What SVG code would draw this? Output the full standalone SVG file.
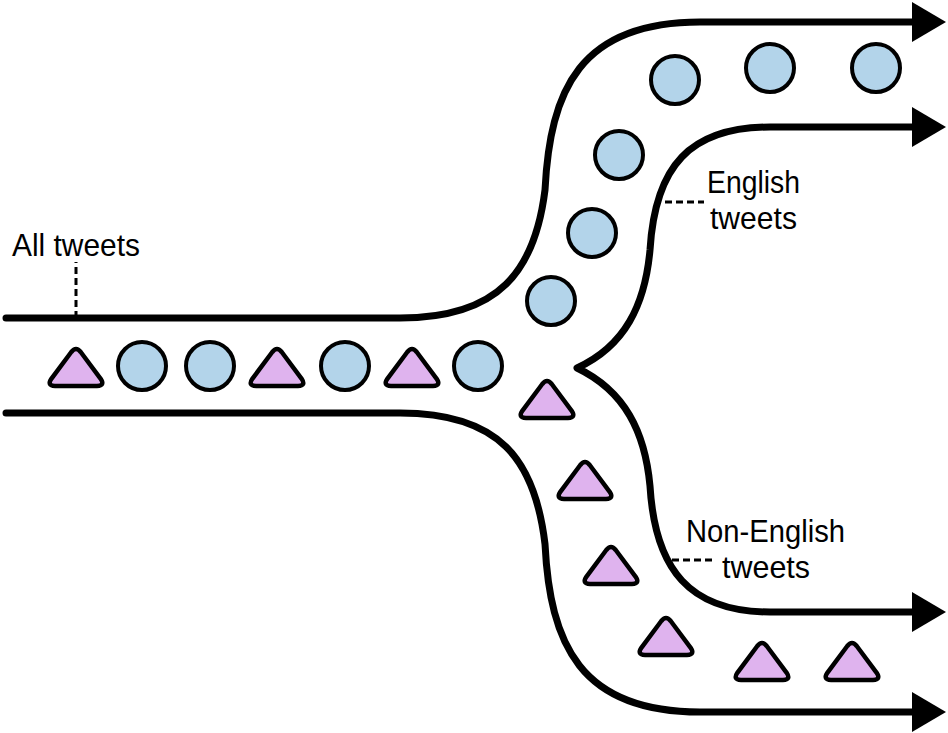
<svg xmlns="http://www.w3.org/2000/svg" width="948" height="733" viewBox="0 0 948 733">
<style>
.pipe{fill:none;stroke:#000;stroke-width:7;stroke-linecap:round;stroke-linejoin:round}
.lead{fill:none;stroke:#000;stroke-width:3;stroke-dasharray:7 4}
.c{fill:#b3d4ea;stroke:#000;stroke-width:4}
.t{fill:#dfb3ee;stroke:#000;stroke-width:4.5;stroke-linejoin:round}
.lbl{font-family:"Liberation Sans",Arial,sans-serif;font-size:32px;fill:#000}
</style>
<defs>
<polygon id="ah" points="0,-20 34,0 0,20" fill="#000"/>
</defs>
<g id="connectors">
<path class="pipe" d="M6,318 H400 C500,318 535,270 545,190 C550,90 580,22 700,22 H914"/>
<path class="pipe" d="M6,413 H400 C500,413 535,460 545,544 C550,644 580,712 700,712 H914"/>
<path class="pipe" d="M914,127 H770 C690,127 655,166 650,250 C645,305 625,346 577,368 C625,391 645,432 650,486 C655,570 690,612 770,612 H914"/>
<use href="#ah" x="912" y="22"/>
<use href="#ah" x="912" y="127"/>
<use href="#ah" x="912" y="612"/>
<use href="#ah" x="912" y="712"/>
<path class="lead" d="M76,318 V262"/>
<path class="lead" d="M665,202 H704"/>
<path class="lead" d="M672,560 H713"/>
</g>
<g id="label-all"><text class="lbl" x="12" y="256" textLength="128" lengthAdjust="spacingAndGlyphs">All tweets</text></g>
<g id="label-english"><text class="lbl" x="707" y="193" textLength="93" lengthAdjust="spacingAndGlyphs">English</text><text class="lbl" x="710" y="229" textLength="87" lengthAdjust="spacingAndGlyphs">tweets</text></g>
<g id="label-nonenglish"><text class="lbl" x="686" y="542" textLength="159" lengthAdjust="spacingAndGlyphs">Non-English</text><text class="lbl" x="722" y="578" textLength="88" lengthAdjust="spacingAndGlyphs">tweets</text></g>
<g id="tweets-en">
<circle class="c" cx="142" cy="366" r="24"/>
<circle class="c" cx="210" cy="366" r="24"/>
<circle class="c" cx="345" cy="366" r="24"/>
<circle class="c" cx="478" cy="366" r="24"/>
<circle class="c" cx="551" cy="301" r="24"/>
<circle class="c" cx="592" cy="233" r="24"/>
<circle class="c" cx="619" cy="155" r="24"/>
<circle class="c" cx="675" cy="80" r="24"/>
<circle class="c" cx="770" cy="68" r="24"/>
<circle class="c" cx="876" cy="68" r="24"/>
</g>
<g id="tweets-non">
<path class="t" transform="translate(76,368)" d="M4.7,-16 L24.5,10.6 Q29.4,17.9 21,17.9 L-21,17.9 Q-29.4,17.9 -24.5,10.6 L-4.7,-16 Q0,-22 4.7,-16 Z"/>
<path class="t" transform="translate(277,368)" d="M4.7,-16 L24.5,10.6 Q29.4,17.9 21,17.9 L-21,17.9 Q-29.4,17.9 -24.5,10.6 L-4.7,-16 Q0,-22 4.7,-16 Z"/>
<path class="t" transform="translate(412,368)" d="M4.7,-16 L24.5,10.6 Q29.4,17.9 21,17.9 L-21,17.9 Q-29.4,17.9 -24.5,10.6 L-4.7,-16 Q0,-22 4.7,-16 Z"/>
<path class="t" transform="translate(547,400)" d="M4.7,-16 L24.5,10.6 Q29.4,17.9 21,17.9 L-21,17.9 Q-29.4,17.9 -24.5,10.6 L-4.7,-16 Q0,-22 4.7,-16 Z"/>
<path class="t" transform="translate(585,481)" d="M4.7,-16 L24.5,10.6 Q29.4,17.9 21,17.9 L-21,17.9 Q-29.4,17.9 -24.5,10.6 L-4.7,-16 Q0,-22 4.7,-16 Z"/>
<path class="t" transform="translate(611,566)" d="M4.7,-16 L24.5,10.6 Q29.4,17.9 21,17.9 L-21,17.9 Q-29.4,17.9 -24.5,10.6 L-4.7,-16 Q0,-22 4.7,-16 Z"/>
<path class="t" transform="translate(666,637)" d="M4.7,-16 L24.5,10.6 Q29.4,17.9 21,17.9 L-21,17.9 Q-29.4,17.9 -24.5,10.6 L-4.7,-16 Q0,-22 4.7,-16 Z"/>
<path class="t" transform="translate(762,662)" d="M4.7,-16 L24.5,10.6 Q29.4,17.9 21,17.9 L-21,17.9 Q-29.4,17.9 -24.5,10.6 L-4.7,-16 Q0,-22 4.7,-16 Z"/>
<path class="t" transform="translate(852,662)" d="M4.7,-16 L24.5,10.6 Q29.4,17.9 21,17.9 L-21,17.9 Q-29.4,17.9 -24.5,10.6 L-4.7,-16 Q0,-22 4.7,-16 Z"/>
</g>
</svg>
